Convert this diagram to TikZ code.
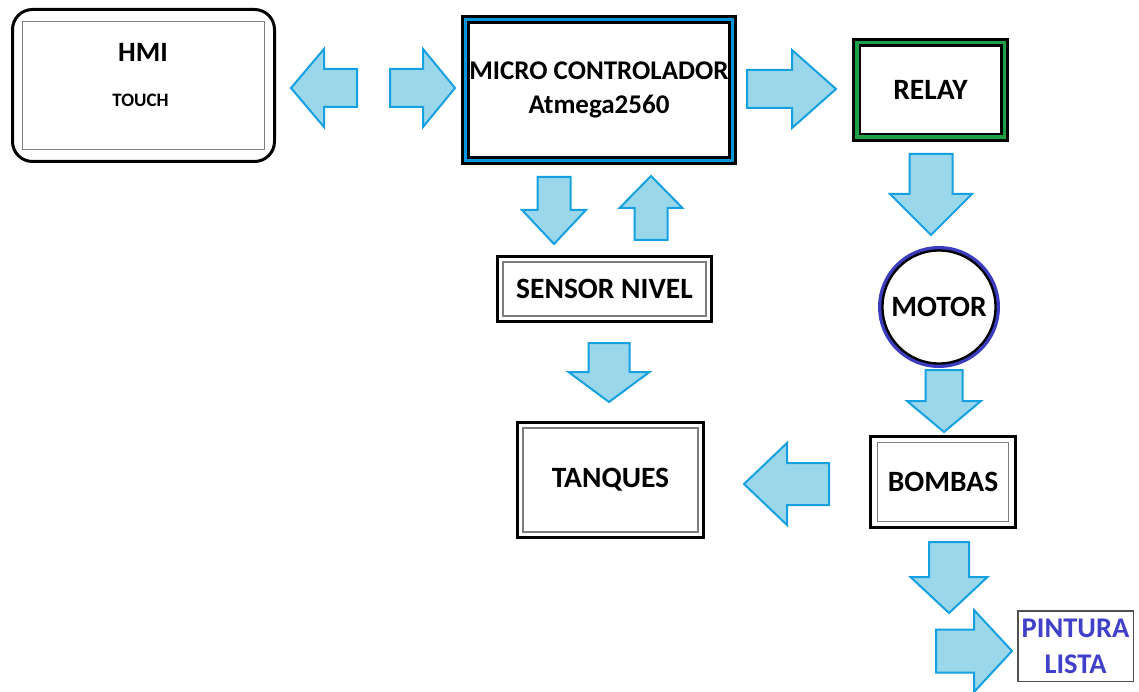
\documentclass[tikz,border=0pt]{standalone}
\usepackage{fontspec}
\setmainfont{Carlito}
\usetikzlibrary{arrows.meta}

\definecolor{celeste}{RGB}{155,215,235}
\definecolor{azulborde}{RGB}{20,160,225}
\definecolor{azulmicro}{RGB}{0,150,220}
\definecolor{verderelay}{RGB}{30,160,70}
\definecolor{azulmotor}{RGB}{60,60,190}
\definecolor{azultexto}{RGB}{64,64,200}
\definecolor{gris}{RGB}{125,125,125}
\definecolor{grisoscuro}{RGB}{80,80,80}

\newcommand{\grande}{\fontsize{29.5}{34}\selectfont\bfseries}
\newcommand{\medio}{\fontsize{27}{33}\selectfont\bfseries}
\newcommand{\chico}{\fontsize{19}{22}\selectfont\bfseries}

\tikzset{
  caja/.style={draw, line width=3pt, fill=white, inner sep=0pt, outer sep=0pt, font=\grande, align=center},
  marco/.style 2 args={path picture={\draw[gris, line width=1.5pt, sharp corners] ([xshift=#1pt, yshift=-#2pt]path picture bounding box.north west) rectangle ([xshift=-#1pt, yshift=#2pt]path picture bounding box.south east);}},
  flechaestilo/.style={draw=azulborde, fill=celeste, line width=2pt, line join=miter},
  pics/flecha/.style n args={4}{code={
    \draw[flechaestilo] (0,-#3) -- ({#1-#2},-#3) -- ({#1-#2},-#4) -- (#1,0) -- ({#1-#2},#4) -- ({#1-#2},#3) -- (0,#3) -- cycle;
  }}
}

\begin{document}
\begin{tikzpicture}[x=1pt, y=-1pt]

    \fill[white] (0,0) rectangle (1139,692);
    \useasboundingbox (0,0) rectangle (1139,692);

    % bloques
    \node[caja, rounded corners=20pt, minimum width=262pt, minimum height=152pt, marco={10}{12}] (hmi) at (143.5,85.5) {};
    \node[font=\fontsize{28}{32}\selectfont\bfseries] (hmititulo) at (143,52) {HMI};
    \node[font=\chico] (hmitouch) at (140.5,100) {TOUCH};

    \node[caja, font=\medio, minimum width=261pt, minimum height=135pt,
          preaction={draw=black, line width=15pt},
          preaction={draw=azulmicro, line width=9pt}] (micro) at (599,90) {MICRO CONTROLADOR\\[1pt]Atmega2560};

    \node[caja, line width=2.5pt, minimum width=141.5pt, minimum height=88.5pt,
          preaction={draw=black, line width=15.5pt},
          preaction={draw=verderelay, line width=9.5pt}] (relay) at (930.5,90) {RELAY};

    \node[caja, minimum width=214pt, minimum height=65pt, marco={5.5}{5.5}] (sensor) at (604.5,289) {SENSOR NIVEL};

    \node[caja, minimum width=186pt, minimum height=115pt, marco={5.5}{5.5}] (tanques) at (610.5,480) {TANQUES};

    \node[caja, circle, line width=2.3pt, minimum size=113.1pt,
          preaction={draw=azulmotor, line width=8.9pt}] (motor) at (939,307) {MOTOR};

    \node[caja, minimum width=145pt, minimum height=91pt, marco={7}{6}] (bombas) at (943,482) {BOMBAS};

    \node[caja, draw=grisoscuro, line width=1.5pt, minimum width=115.5pt, minimum height=70.5pt,
          text=azultexto, font=\fontsize{28.5}{36}\selectfont\bfseries] (pintura) at (1075.5,646) {PINTURA\\LISTA};

    % flechas
    \pic[rotate=180] at (357,88) {flecha={66}{33}{19}{39}};
    \pic at (390,88) {flecha={65}{32}{19}{39}};
    \pic at (747,89) {flecha={89}{44}{19}{39}};
    \pic[rotate=-90] at (554,177) {flecha={67}{34}{16.5}{32}};
    \pic[rotate=90] at (651,240) {flecha={64}{32}{16.5}{31.5}};
    \pic[rotate=-90] at (931,154) {flecha={81}{41}{21.5}{41}};
    \pic[rotate=-90] at (609,343) {flecha={59}{30}{20.5}{40.5}};
    \pic[rotate=-90] at (944,370) {flecha={62}{31}{18.5}{37}};
    \pic[rotate=180] at (829,484) {flecha={85}{43}{21}{41}};
    \pic[rotate=-90] at (949,542) {flecha={71}{36}{20}{38.5}};
    \pic at (936,651) {flecha={76}{38}{21.5}{41}};

\end{tikzpicture}
\end{document}
